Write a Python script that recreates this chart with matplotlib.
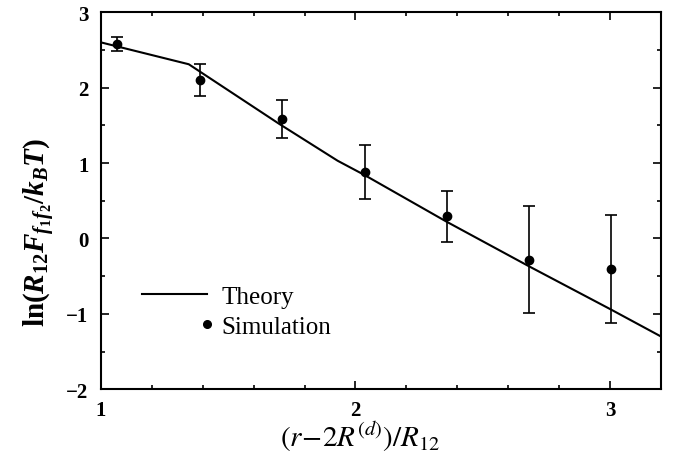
import matplotlib
matplotlib.use("Agg")
import matplotlib.pyplot as plt
from matplotlib.lines import Line2D
from matplotlib.legend_handler import HandlerLine2D
from matplotlib.ticker import MultipleLocator

# ---------- data ----------
sim_x = [1.065, 1.388, 1.713, 2.036, 2.359, 2.682, 3.005]
sim_y = [2.58, 2.10, 1.58, 0.88, 0.295, -0.28, -0.41]
sim_err = [0.095, 0.21, 0.25, 0.36, 0.34, 0.71, 0.715]

theory_x = [1.0, 1.345, 1.70, 1.93, 2.036, 2.359, 2.682, 3.005, 3.2]
theory_y = [2.60, 2.31, 1.52, 1.03, 0.84, 0.22, -0.37, -0.945, -1.30]

xticks = [1, 2, 3]
yticks = [-2, -1, 0, 1, 2, 3]
ytick_labels = ['\u22122', '\u22121', '0', '1', '2', '3']

plt.rcParams['font.family'] = ['Liberation Serif', 'DejaVu Serif']
plt.rcParams['mathtext.fontset'] = 'custom'
plt.rcParams['mathtext.rm'] = 'Liberation Serif:bold'
plt.rcParams['mathtext.it'] = 'Liberation Serif:bold:italic'
plt.rcParams['mathtext.bf'] = 'Liberation Serif:bold'


class RightMarkerHandler(HandlerLine2D):
    # put the dot at the right end of the handle box
    def create_artists(self, legend, orig_handle, xdescent, ydescent,
                       width, height, fontsize, trans):
        artists = super().create_artists(legend, orig_handle, xdescent, ydescent,
                                         width, height, fontsize, trans)
        for a in artists:
            if a.get_marker() not in (None, 'None', ''):
                a.set_xdata([width - xdescent])
        return artists


fig = plt.figure(figsize=(6.73, 4.64), dpi=100)
ax = fig.add_axes([0.150, 0.159, 0.832, 0.8125])

ax.plot(theory_x, theory_y, color='black', lw=1.5)
ax.errorbar(sim_x, sim_y, yerr=sim_err, fmt='o', color='black', ms=6,
            elinewidth=1.2, capsize=4, capthick=1.2)

ax.set_xlim(1, 3.2)
ax.set_ylim(-2, 3)
ax.set_xticks(xticks)
ax.set_yticks(yticks)
ax.set_yticklabels(ytick_labels)
ax.xaxis.set_minor_locator(MultipleLocator(0.2))
ax.yaxis.set_minor_locator(MultipleLocator(0.5))
ax.tick_params(which='both', direction='in', top=True, right=True, width=1.2)
ax.tick_params(which='major', length=6, labelsize=15)
ax.tick_params(which='minor', length=3)
ax.tick_params(axis='x', pad=8)
ax.tick_params(axis='y', pad=9)
for lab in ax.get_xticklabels() + ax.get_yticklabels():
    lab.set_fontweight('bold')
for sp in ax.spines.values():
    sp.set_linewidth(1.5)

ax.set_ylabel(r'$\mathrm{ln}(R_{12}F_{f_1f_2}/k_BT)$', fontsize=21)
ax.yaxis.set_label_coords(-0.079, 0.419)
xl = ax.set_xlabel(r'$(r\!-\!2R^{(d)})/R_{12}$', fontsize=21)
xl.set_math_fontfamily('stix')
ax.xaxis.set_label_coords(0.4625, -0.078)

theory_h = Line2D([], [], color='black', lw=1.5)
sim_h = Line2D([], [], color='black', marker='o', ms=5.5, ls='none')
ax.legend([theory_h, sim_h], ['Theory', 'Simulation'],
          handler_map={sim_h: RightMarkerHandler(numpoints=1)},
          loc='lower left', bbox_to_anchor=(0.073, 0.137), frameon=False,
          fontsize=18, handlelength=2.6, handletextpad=0.6, labelspacing=0.3,
          borderaxespad=0, borderpad=0)

fig.savefig('out.png', dpi=100)
